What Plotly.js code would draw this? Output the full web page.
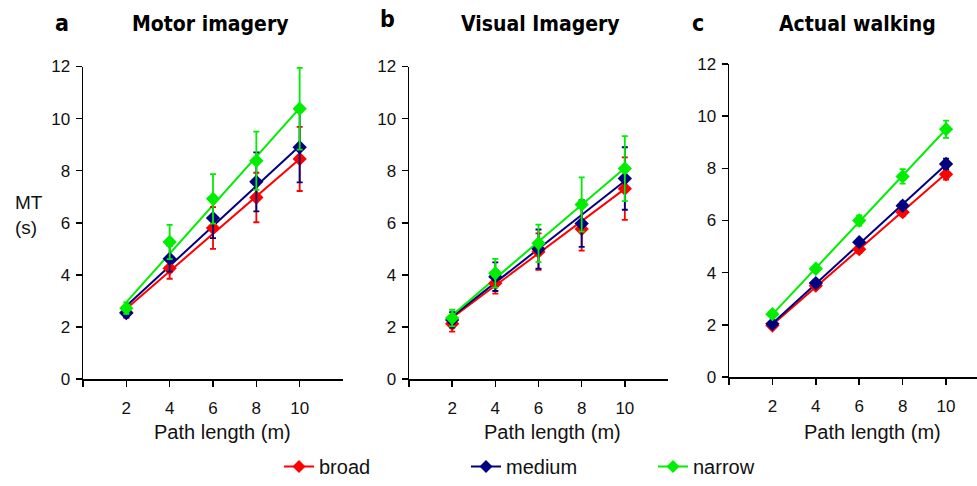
<!DOCTYPE html>
<html>
<head>
<meta charset="utf-8">
<script src="https://cdn.plot.ly/plotly-3.0.1.min.js"></script>
<style>html,body{margin:0;padding:0;background:#fff;}#chart{width:977px;height:486px;}</style>
</head>
<body>
<div id="chart"></div>
<script>
// Path lengths (m)
const pathLength = [2, 4, 6, 8, 10];
const fitX = [2, 10];

// Panel a: Motor imagery (MT in s)
const motorBroad = [2.55, 4.25, 5.8, 6.97, 8.45];
const motorBroadErr = [0.2, 0.4, 0.8, 0.95, 1.23];
const motorMedium = [2.53, 4.62, 6.18, 7.57, 8.9];
const motorMediumErr = [0.15, 0.5, 0.77, 1.13, 1.35];
const motorNarrow = [2.72, 5.26, 6.92, 8.38, 10.38];
const motorNarrowErr = [0.22, 0.66, 0.95, 1.12, 1.57];
const motorBroadFit = [2.7, 8.45];
const motorMediumFit = [2.8, 8.95];
const motorNarrowFit = [2.95, 10.4];

// Panel b: Visual imagery
const visualBroad = [2.12, 3.68, 4.89, 5.76, 7.31];
const visualBroadErr = [0.3, 0.4, 0.7, 0.83, 1.2];
const visualMedium = [2.27, 3.93, 4.99, 5.97, 7.7];
const visualMediumErr = [0.3, 0.55, 0.75, 0.9, 1.2];
const visualNarrow = [2.34, 4.06, 5.21, 6.7, 8.08];
const visualNarrowErr = [0.32, 0.55, 0.72, 1.04, 1.25];
const visualBroadFit = [2.35, 7.3];
const visualMediumFit = [2.4, 7.6];
const visualNarrowFit = [2.45, 8.1];

// Panel c: Actual walking
const walkBroad = [1.97, 3.5, 4.9, 6.32, 7.77];
const walkBroadErr = [0.1, 0.12, 0.15, 0.15, 0.2];
const walkMedium = [2.04, 3.6, 5.17, 6.57, 8.17];
const walkMediumErr = [0.1, 0.12, 0.12, 0.15, 0.2];
const walkNarrow = [2.41, 4.15, 6.0, 7.69, 9.5];
const walkNarrowErr = [0.1, 0.12, 0.2, 0.28, 0.33];
const walkBroadFit = [2.0, 7.8];
const walkMediumFit = [2.05, 8.15];
const walkNarrowFit = [2.4, 9.5];

const seriesNames = ['broad', 'medium', 'narrow'];
const seriesColors = ['#ff0000', '#000080', '#00ee00'];
const panelTitles = ['Motor imagery', 'Visual Imagery', 'Actual walking'];
const panelLetters = ['a', 'b', 'c'];
const yTicks = [0, 2, 4, 6, 8, 10, 12];
const xTicks = [0, 2, 4, 6, 8, 10];
const xTickText = ['', '2', '4', '6', '8', '10'];
const xAxisTitle = 'Path length (m)';
const yAxisTitle = 'MT<br>(s)';

const panels = [
  {vals: [motorBroad, motorMedium, motorNarrow], errs: [motorBroadErr, motorMediumErr, motorNarrowErr], fits: [motorBroadFit, motorMediumFit, motorNarrowFit]},
  {vals: [visualBroad, visualMedium, visualNarrow], errs: [visualBroadErr, visualMediumErr, visualNarrowErr], fits: [visualBroadFit, visualMediumFit, visualNarrowFit]},
  {vals: [walkBroad, walkMedium, walkNarrow], errs: [walkBroadErr, walkMediumErr, walkNarrowErr], fits: [walkBroadFit, walkMediumFit, walkNarrowFit]}
];

const W = 977, H = 486;
const xDomains = [[83/W, 343/W], [409/W, 668/W], [729/W, 1]];
const xRanges = [[0, 12], [0, 12], [0, (977 - 728.5) / 21.75]];
const yDomains = [[1 - 379/H, 1 - 66.5/H], [1 - 379/H, 1 - 66.5/H], [1 - 377/H, 1 - 64/H]];

const baseFamily = 'Liberation Sans, Arial, sans-serif';
const condFamily = 'DejaVu Sans Condensed, Liberation Sans Narrow, Arial Narrow, sans-serif';
const tickFont = {family: baseFamily, size: 17, color: '#111'};
const traces = [];
panels.forEach((p, pi) => {
  const xa = pi === 0 ? 'x' : 'x' + (pi + 1);
  const ya = pi === 0 ? 'y' : 'y' + (pi + 1);
  for (let s = 0; s < 3; s++) {
    traces.push({
      x: fitX, y: p.fits[s], xaxis: xa, yaxis: ya, mode: 'lines', type: 'scatter',
      line: {color: seriesColors[s], width: 2}, showlegend: false, hoverinfo: 'skip'
    });
  }
  for (let s = 0; s < 3; s++) {
    traces.push({
      x: pathLength, y: p.vals[s], xaxis: xa, yaxis: ya, mode: 'markers', type: 'scatter',
      name: seriesNames[s],
      marker: {symbol: 'diamond', size: 11, color: seriesColors[s]},
      error_y: {type: 'data', array: p.errs[s], visible: true, color: seriesColors[s], thickness: 1.8, width: 3},
      showlegend: false
    });
  }
});
// legend entries
for (let s = 0; s < 3; s++) {
  traces.push({
    x: [null], y: [null], mode: 'lines+markers', type: 'scatter', name: seriesNames[s],
    line: {color: seriesColors[s], width: 2},
    marker: {symbol: 'diamond', size: 10, color: seriesColors[s]},
    showlegend: true
  });
}

const layout = {
  width: W, height: H,
  margin: {l: 0, r: 0, t: 0, b: 0, autoexpand: false},
  paper_bgcolor: '#fff', plot_bgcolor: '#fff',
  showlegend: true,
  legend: {
    orientation: 'h', x: 279 / W, xanchor: 'left', y: 0, yanchor: 'bottom',
    font: {family: baseFamily, size: 20, color: '#111'},
    entrywidth: 142, traceorder: 'normal', bgcolor: 'rgba(0,0,0,0)'
  },
  annotations: [],
  font: tickFont
};

for (let i = 0; i < 3; i++) {
  const sfx = i === 0 ? '' : String(i + 1);
  layout['xaxis' + sfx] = {
    domain: xDomains[i], range: xRanges[i], anchor: 'y' + sfx,
    showline: true, linecolor: '#000', linewidth: 1.5, mirror: false,
    ticks: 'outside', ticklen: 6, tickwidth: 1.5, tickcolor: '#000',
    tickvals: xTicks, ticktext: xTickText, tickfont: tickFont, ticklabelstandoff: 7,
    showgrid: false, zeroline: false, fixedrange: true, automargin: false
  };
  layout['yaxis' + sfx] = {
    domain: yDomains[i], range: [0, 12], anchor: 'x' + sfx,
    showline: true, linecolor: '#000', linewidth: 1.5,
    ticks: 'outside', ticklen: 6, tickwidth: 1.5, tickcolor: '#000',
    tickvals: yTicks, tickfont: tickFont, ticklabelstandoff: 2,
    showgrid: false, zeroline: false, fixedrange: true, automargin: false
  };
}

const titleFont = {family: condFamily, size: 21, color: '#000', weight: 700};
const titleCenters = [210, 540, 857];
const letterX = [62, 387, 698];
const letterY = [23, 19, 23];
const xTitleCenters = [222, 552, 872];
for (let i = 0; i < 3; i++) {
  layout.annotations.push({
    text: panelTitles[i], xref: 'paper', yref: 'paper',
    x: titleCenters[i] / W, y: 1 - 24/H, xanchor: 'center', yanchor: 'middle',
    showarrow: false, font: titleFont
  });
  layout.annotations.push({
    text: panelLetters[i], xref: 'paper', yref: 'paper',
    x: letterX[i] / W, y: 1 - letterY[i]/H, xanchor: 'center', yanchor: 'middle',
    showarrow: false, font: {family: condFamily, size: 23, color: '#000', weight: 700}
  });
  layout.annotations.push({
    text: xAxisTitle, xref: 'paper', yref: 'paper',
    x: xTitleCenters[i] / W, y: 1 - 432/H, xanchor: 'center', yanchor: 'middle',
    showarrow: false, font: {family: baseFamily, size: 20, color: '#111'}
  });
}
layout.annotations.push({
  text: yAxisTitle, xref: 'paper', yref: 'paper', align: 'left',
  x: 13 / W, y: 1 - 215/H, xanchor: 'left', yanchor: 'middle',
  showarrow: false, font: {family: baseFamily, size: 19, color: '#111'}
});

Plotly.newPlot('chart', traces, layout, {displayModeBar: false, staticPlot: true});
</script>
</body>
</html>
